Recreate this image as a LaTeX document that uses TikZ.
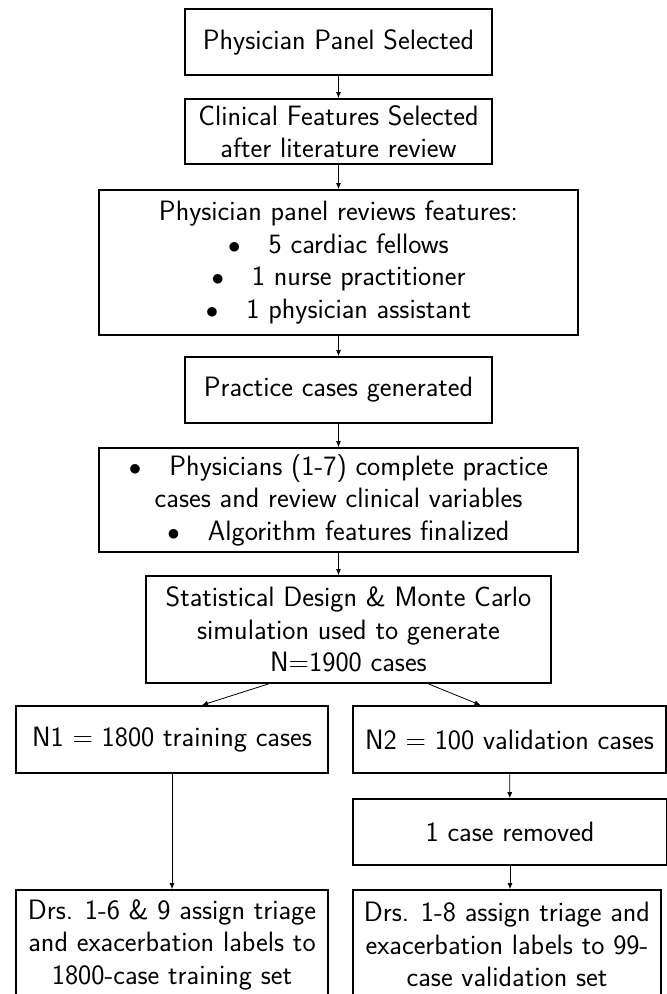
\documentclass[tikz,border=0pt]{standalone}
\usepackage{fontspec}
\usetikzlibrary{arrows.meta,calc}
\newcommand\fsz{\fontsize{28}{32.5}\selectfont\sffamily}
\newcommand\blt{$\bullet$\hspace{1.0em}}
\begin{document}
\begin{tikzpicture}[x=1pt,y=-1pt,
  box/.style={draw,line width=1.8pt,align=center,inner sep=0pt,font=\fsz},
  arr/.style={-{Latex[length=6pt,width=5pt]},line width=0.8pt}]
\clip (0,0) rectangle (667,994);
\fill[white] (0,0) rectangle (667,994);
\node[box,minimum width=307pt,minimum height=66pt] (b1) at (338.5,42) {Physician Panel Selected};
\node[box,minimum width=307pt,minimum height=65pt] (b2) at (338.5,131.5) {Clinical Features Selected\\after literature review};
\node[box,minimum width=479pt,minimum height=145pt] (b3) at (338.5,262.5) {Physician panel reviews features:\\\blt 5 cardiac fellows\\\blt 1 nurse practitioner\\\blt 1 physician assistant};
\node[box,minimum width=307pt,minimum height=66pt] (b4) at (338.5,390) {Practice cases generated};
\node[box,minimum width=479pt,minimum height=104pt] (b5) at (338.5,500) {\blt Physicians (1-7) complete practice\\cases and review clinical variables\\\blt Algorithm features finalized};
\node[box,minimum width=405pt,minimum height=107pt] (b6) at (348.5,629.5) {Statistical Design \& Monte Carlo\\simulation used to generate\\N=1900 cases};
\node[box,minimum width=312pt,minimum height=67pt] (n1) at (172,739.5) {N1 = 1800 training cases};
\node[box,minimum width=313pt,minimum height=67pt] (n2) at (509.5,739.5) {N2 = 100 validation cases};
\node[box,minimum width=314pt,minimum height=66pt] (r1) at (510,832) {1 case removed};
\node[box,minimum width=312pt,minimum height=109pt] (d1) at (172,944.5) {Drs. 1-6 \& 9 assign triage\\and exacerbation labels to\\1800-case training set};
\node[box,minimum width=308pt,minimum height=109pt] (d2) at (507,944.5) {Drs. 1-8 assign triage and\\exacerbation labels to 99-\\case validation set};
\draw[arr] (b1) -- (b2);
\draw[arr] (b2) -- (b3);
\draw[arr] (b3) -- (b4);
\draw[arr] (b4) -- (b5);
\draw[arr] (b5.south) -- (b6.north -| b5.south);
\draw[arr] ([xshift=-80pt]b6.south) -- ([xshift=30pt]n1.north);
\draw[arr] ([xshift=80pt]b6.south) -- ([xshift=-29pt]n2.north);
\draw[arr] (n1) -- (d1);
\draw[arr] (n2) -- (r1);
\draw[arr] (r1.south) -- (r1.south |- d2.north);
\end{tikzpicture}
\end{document}
